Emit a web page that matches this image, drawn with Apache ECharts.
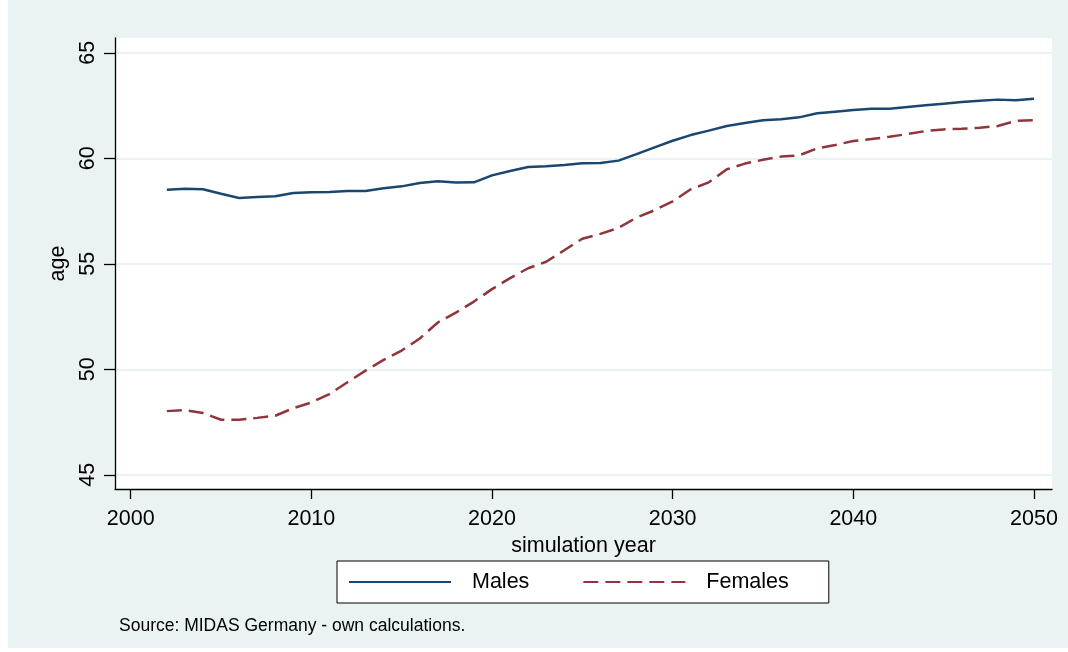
<!DOCTYPE html>
<html>
<head>
<meta charset="utf-8">
<script src="https://cdn.jsdelivr.net/npm/echarts@6/dist/echarts.min.js"></script>
<style>
  html, body { margin: 0; padding: 0; background: #fff; }
  #chart { width: 1068px; height: 652px; }
</style>
</head>
<body>
<div id="chart"></div>
<script>
// simulated average retirement age, MIDAS Germany
const years = [];
for (let y = 2002; y <= 2050; y++) years.push(y);

const males = [
  58.51, 58.56, 58.53, 58.32, 58.12, 58.17, 58.20, 58.36, 58.39, 58.40,
  58.45, 58.45, 58.58, 58.67, 58.83, 58.91, 58.85, 58.86, 59.19, 59.40,
  59.59, 59.62, 59.68, 59.76, 59.78, 59.89, 60.20, 60.52, 60.83, 61.10,
  61.31, 61.53, 61.67, 61.80, 61.85, 61.94, 62.13, 62.21, 62.29, 62.35,
  62.35, 62.43, 62.51, 62.59, 62.67, 62.73, 62.78, 62.75, 62.82
];
const females = [
  48.02, 48.07, 47.93, 47.61, 47.61, 47.70, 47.80, 48.16, 48.43, 48.83,
  49.39, 49.94, 50.45, 50.89, 51.46, 52.22, 52.69, 53.21, 53.80, 54.32,
  54.79, 55.10, 55.64, 56.19, 56.42, 56.70, 57.19, 57.54, 57.96, 58.53,
  58.86, 59.48, 59.75, 59.93, 60.08, 60.14, 60.47, 60.63, 60.82, 60.91,
  61.02, 61.15, 61.29, 61.37, 61.40, 61.45, 61.53, 61.77, 61.81
];

const xTicks = [2000, 2010, 2020, 2030, 2040, 2050];
const yTicks = [45, 50, 55, 60, 65];

const FONT = "Liberation Sans, Arial, sans-serif";
const PANEL = "#eaf2f3";

const chart = echarts.init(document.getElementById("chart"), null, { renderer: "canvas" });

const pair = (arr)=> years.map((y, i)=>[y, arr[i]]);

chart.setOption({
  backgroundColor: "#fff",
  animation: false,
  textStyle: { fontFamily: FONT },
  graphic: [{
    type: "rect", z: -10, silent: true,
    shape: { x: 8, y: 0, width: 1060, height: 648 },
    style: { fill: PANEL }
  }],
  title: {
    text: "Source: MIDAS Germany - own calculations.",
    left: 114, top: 612,
    textStyle: { fontFamily: FONT, fontSize: 17.5, fontWeight: "normal", color: "#000" }
  },
  grid: {
    left: 115, top: 38, right: 16, bottom: 163,
    show: true, backgroundColor: "#fff", borderWidth: 0
  },
  legend: {
    left: 337, top: 561,
    orient: "horizontal",
    backgroundColor: "#fff",
    borderColor: "#000",
    borderWidth: 1,
    borderRadius: 0,
    padding: [10, 40, 10, 11],
    itemWidth: 102,
    itemHeight: 20,
    itemGap: 53,
    itemStyle: { opacity: 0 },
    textStyle: { fontFamily: FONT, fontSize: 21.5, color: "#000", padding: [0, 0, 0, 16] },
    data: ["Males", "Females"]
  },
  xAxis: {
    type: "value",
    min: 1999.13, max: 2051.0,
    name: "simulation year",
    nameLocation: "middle",
    nameGap: 38,
    nameTextStyle: { fontFamily: FONT, fontSize: 21.5, color: "#000" },
    axisLine: { show: true, onZero: false, lineStyle: { color: "#000", width: 1.3 } },
    axisTick: { show: true, length: 10, customValues: xTicks, lineStyle: { color: "#000", width: 1.3 } },
    axisLabel: {
      customValues: xTicks, margin: 19, fontFamily: FONT, fontSize: 21.5, color: "#000",
      formatter: (v)=> String(Math.round(v))
    },
    splitLine: { show: false }
  },
  yAxis: {
    type: "value",
    min: 44.33, max: 65.7,
    name: "age",
    nameLocation: "middle",
    nameGap: 46,
    nameRotate: 90,
    nameTextStyle: { fontFamily: FONT, fontSize: 21.5, color: "#000" },
    axisLine: { show: true, onZero: false, lineStyle: { color: "#000", width: 1.3 } },
    axisTick: { show: true, length: 11, customValues: yTicks, lineStyle: { color: "#000", width: 1.3 } },
    axisLabel: { customValues: yTicks, rotate: 90, margin: 16, fontFamily: FONT, fontSize: 21.5, color: "#000" },
    splitLine: { show: true, lineStyle: { color: PANEL, width: 2 } }
  },
  series: [
    {
      name: "Males", type: "line",
      data: pair(males),
      showSymbol: false, symbol: "none",
      lineStyle: { color: "#1a476f", width: 2.5 },
      itemStyle: { color: "#1a476f" }
    },
    {
      name: "Females", type: "line",
      data: pair(females),
      showSymbol: false, symbol: "none",
      lineStyle: { color: "#90353b", width: 2.5, type: [15, 7] },
      itemStyle: { color: "#90353b" }
    }
  ]
});
</script>
</body>
</html>
